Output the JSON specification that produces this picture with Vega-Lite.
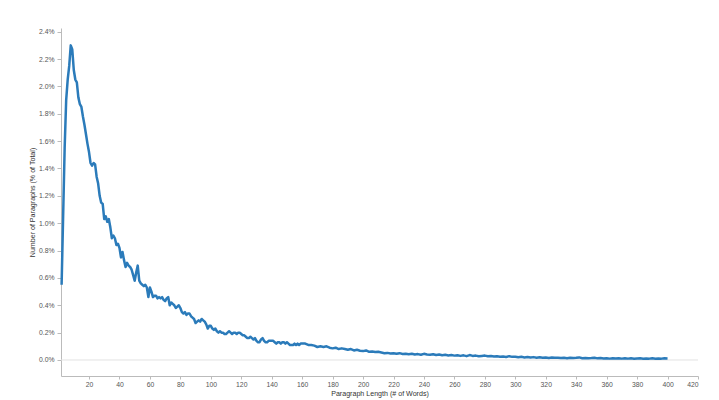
{
  "$schema": "https://vega.github.io/schema/vega-lite/v6.json",
  "width": 637,
  "height": 348,
  "autosize": "none",
  "padding": {"left": 61, "top": 28, "right": 21, "bottom": 24},
  "background": "white",
  "config": {"view": {"stroke": null}, "font": "Liberation Sans"},
  "datasets": {
    "para": [
      {"w":2,"p":0.55},{"w":3,"p":1.05},{"w":4,"p":1.55},{"w":5,"p":1.90},{"w":6,"p":2.05},{"w":7,"p":2.15},{"w":8,"p":2.30},{"w":9,"p":2.27},{"w":10,"p":2.12},
      {"w":11,"p":2.05},{"w":12,"p":2.03},{"w":13,"p":1.92},{"w":14,"p":1.87},{"w":15,"p":1.85},{"w":16,"p":1.78},{"w":17,"p":1.72},{"w":18,"p":1.65},{"w":19,"p":1.58},{"w":20,"p":1.52},
      {"w":21,"p":1.44},{"w":22,"p":1.42},{"w":23,"p":1.44},{"w":24,"p":1.43},{"w":25,"p":1.34},{"w":26,"p":1.29},{"w":27,"p":1.20},{"w":28,"p":1.15},{"w":29,"p":1.14},{"w":30,"p":1.03},
      {"w":31,"p":1.05},{"w":32,"p":1.01},{"w":33,"p":1.03},{"w":34,"p":0.97},{"w":35,"p":0.89},{"w":36,"p":0.91},{"w":37,"p":0.89},{"w":38,"p":0.84},{"w":39,"p":0.85},{"w":40,"p":0.82},
      {"w":41,"p":0.75},{"w":42,"p":0.79},{"w":43,"p":0.73},{"w":44,"p":0.68},{"w":45,"p":0.71},{"w":46,"p":0.69},{"w":47,"p":0.68},{"w":48,"p":0.66},{"w":49,"p":0.62},{"w":50,"p":0.58},
      {"w":51,"p":0.64},{"w":52,"p":0.69},{"w":53,"p":0.58},{"w":54,"p":0.56},{"w":55,"p":0.55},{"w":56,"p":0.54},{"w":57,"p":0.55},{"w":58,"p":0.53},{"w":59,"p":0.46},{"w":60,"p":0.53},
      {"w":61,"p":0.50},{"w":62,"p":0.46},{"w":63,"p":0.47},{"w":64,"p":0.47},{"w":65,"p":0.45},{"w":66,"p":0.46},{"w":67,"p":0.45},{"w":68,"p":0.46},{"w":69,"p":0.44},{"w":70,"p":0.43},
      {"w":71,"p":0.45},{"w":72,"p":0.46},{"w":73,"p":0.40},{"w":74,"p":0.42},{"w":75,"p":0.41},{"w":76,"p":0.40},{"w":77,"p":0.38},{"w":78,"p":0.39},{"w":79,"p":0.40},{"w":80,"p":0.38},
      {"w":81,"p":0.35},{"w":82,"p":0.34},{"w":83,"p":0.35},{"w":84,"p":0.33},{"w":85,"p":0.34},{"w":86,"p":0.34},{"w":87,"p":0.32},{"w":88,"p":0.31},{"w":89,"p":0.30},{"w":90,"p":0.27},
      {"w":91,"p":0.28},{"w":92,"p":0.29},{"w":93,"p":0.28},{"w":94,"p":0.30},{"w":95,"p":0.29},{"w":96,"p":0.28},{"w":97,"p":0.26},{"w":98,"p":0.23},{"w":99,"p":0.25},{"w":100,"p":0.25},
      {"w":101,"p":0.23},{"w":102,"p":0.22},{"w":103,"p":0.23},{"w":104,"p":0.21},{"w":105,"p":0.20},{"w":106,"p":0.21},{"w":107,"p":0.20},{"w":108,"p":0.20},{"w":109,"p":0.19},{"w":110,"p":0.19},
      {"w":111,"p":0.20},{"w":112,"p":0.21},{"w":113,"p":0.20},{"w":114,"p":0.19},{"w":115,"p":0.20},{"w":116,"p":0.20},{"w":117,"p":0.19},{"w":118,"p":0.20},{"w":119,"p":0.20},{"w":120,"p":0.19},
      {"w":121,"p":0.18},{"w":122,"p":0.18},{"w":123,"p":0.17},{"w":124,"p":0.16},{"w":125,"p":0.16},{"w":126,"p":0.17},{"w":127,"p":0.16},{"w":128,"p":0.15},{"w":129,"p":0.16},{"w":130,"p":0.14},
      {"w":131,"p":0.13},{"w":132,"p":0.13},{"w":133,"p":0.15},{"w":134,"p":0.16},{"w":135,"p":0.14},{"w":136,"p":0.13},{"w":137,"p":0.13},{"w":138,"p":0.14},{"w":139,"p":0.14},{"w":140,"p":0.14},
      {"w":141,"p":0.14},{"w":142,"p":0.13},{"w":143,"p":0.12},{"w":144,"p":0.13},{"w":145,"p":0.13},{"w":146,"p":0.12},{"w":147,"p":0.13},{"w":148,"p":0.13},{"w":149,"p":0.12},{"w":150,"p":0.13},
      {"w":151,"p":0.12},{"w":152,"p":0.11},{"w":153,"p":0.11},{"w":154,"p":0.11},{"w":155,"p":0.12},{"w":156,"p":0.11},{"w":157,"p":0.12},{"w":158,"p":0.11},{"w":159,"p":0.12},{"w":160,"p":0.12},
      {"w":162,"p":0.12},{"w":164,"p":0.11},{"w":166,"p":0.11},{"w":168,"p":0.105},{"w":170,"p":0.095},{"w":172,"p":0.10},{"w":174,"p":0.095},{"w":176,"p":0.10},{"w":178,"p":0.09},{"w":180,"p":0.085},
      {"w":182,"p":0.09},{"w":184,"p":0.08},{"w":186,"p":0.085},{"w":188,"p":0.08},{"w":190,"p":0.075},{"w":192,"p":0.08},{"w":194,"p":0.07},{"w":196,"p":0.075},{"w":198,"p":0.068},{"w":200,"p":0.065},
      {"w":202,"p":0.07},{"w":204,"p":0.06},{"w":206,"p":0.062},{"w":208,"p":0.058},{"w":210,"p":0.06},{"w":212,"p":0.055},{"w":214,"p":0.05},{"w":216,"p":0.052},{"w":218,"p":0.048},{"w":220,"p":0.05},
      {"w":222,"p":0.045},{"w":224,"p":0.05},{"w":226,"p":0.044},{"w":228,"p":0.046},{"w":230,"p":0.042},{"w":232,"p":0.045},{"w":234,"p":0.04},{"w":236,"p":0.043},{"w":238,"p":0.038},{"w":240,"p":0.045},
      {"w":242,"p":0.04},{"w":244,"p":0.038},{"w":246,"p":0.042},{"w":248,"p":0.036},{"w":250,"p":0.04},{"w":252,"p":0.035},{"w":254,"p":0.038},{"w":256,"p":0.033},{"w":258,"p":0.036},{"w":260,"p":0.032},
      {"w":262,"p":0.035},{"w":264,"p":0.03},{"w":266,"p":0.034},{"w":268,"p":0.028},{"w":270,"p":0.036},{"w":272,"p":0.03},{"w":274,"p":0.032},{"w":276,"p":0.027},{"w":278,"p":0.03},{"w":280,"p":0.032},
      {"w":282,"p":0.027},{"w":284,"p":0.029},{"w":286,"p":0.025},{"w":288,"p":0.028},{"w":290,"p":0.024},{"w":292,"p":0.026},{"w":294,"p":0.022},{"w":296,"p":0.028},{"w":298,"p":0.023},{"w":300,"p":0.024},
      {"w":302,"p":0.02},{"w":304,"p":0.023},{"w":306,"p":0.019},{"w":308,"p":0.022},{"w":310,"p":0.018},{"w":312,"p":0.021},{"w":314,"p":0.017},{"w":316,"p":0.02},{"w":318,"p":0.016},{"w":320,"p":0.019},
      {"w":322,"p":0.015},{"w":324,"p":0.018},{"w":326,"p":0.016},{"w":328,"p":0.017},{"w":330,"p":0.014},{"w":332,"p":0.016},{"w":334,"p":0.013},{"w":336,"p":0.017},{"w":338,"p":0.014},{"w":340,"p":0.016},
      {"w":342,"p":0.019},{"w":344,"p":0.013},{"w":346,"p":0.015},{"w":348,"p":0.012},{"w":350,"p":0.014},{"w":352,"p":0.017},{"w":354,"p":0.012},{"w":356,"p":0.014},{"w":358,"p":0.011},{"w":360,"p":0.013},
      {"w":362,"p":0.01},{"w":364,"p":0.013},{"w":366,"p":0.011},{"w":368,"p":0.012},{"w":370,"p":0.01},{"w":372,"p":0.013},{"w":374,"p":0.01},{"w":376,"p":0.012},{"w":378,"p":0.009},{"w":380,"p":0.011},
      {"w":382,"p":0.012},{"w":384,"p":0.009},{"w":386,"p":0.011},{"w":388,"p":0.01},{"w":390,"p":0.012},{"w":392,"p":0.009},{"w":394,"p":0.011},{"w":396,"p":0.01},{"w":398,"p":0.012},{"w":400,"p":0.011}
    ],
    "zero": [{"p": 0}]
  },
  "encoding": {
    "y": {
      "field": "p", "type": "quantitative",
      "scale": {"domain": [-0.117, 2.427], "nice": false, "zero": false},
      "axis": {
        "title": "Number of Paragraphs (% of Total)",
        "values": [0,0.2,0.4,0.6,0.8,1.0,1.2,1.4,1.6,1.8,2.0,2.2,2.4],
        "labelExpr": "format(datum.value, '.1f') + '%'",
        "labelOverlap": false,
        "grid": false,
        "domainColor": "#bbbbbb",
        "tickColor": "#bbbbbb",
        "tickSize": 4,
        "labelFontSize": 6.8,
        "labelColor": "#555555",
        "labelPadding": 3,
        "titleFontSize": 7.1,
        "titleFontWeight": "normal",
        "titleColor": "#333333",
        "titlePadding": 3
      }
    }
  },
  "layer": [
    {
      "data": {"name": "zero"},
      "mark": {"type": "rule", "color": "#e2e2e2", "strokeWidth": 1}
    },
    {
      "data": {"name": "para"},
      "mark": {"type": "line", "color": "#2b7bba", "strokeWidth": 2.5, "strokeJoin": "round"},
      "encoding": {
        "x": {
          "field": "w", "type": "quantitative",
          "scale": {"domain": [1.6, 420], "nice": false, "zero": false},
          "axis": {
            "title": "Paragraph Length (# of Words)",
            "values": [20,40,60,80,100,120,140,160,180,200,220,240,260,280,300,320,340,360,380,400,420],
            "labelFlush": true,
            "labelOverlap": false,
            "grid": false,
            "domainColor": "#bbbbbb",
            "tickColor": "#bbbbbb",
            "tickSize": 3,
            "labelFontSize": 6.8,
            "labelColor": "#555555",
            "labelPadding": 2,
            "titleFontSize": 7.1,
            "titleFontWeight": "normal",
            "titleColor": "#333333",
            "titlePadding": 2
          }
        }
      }
    }
  ]
}
